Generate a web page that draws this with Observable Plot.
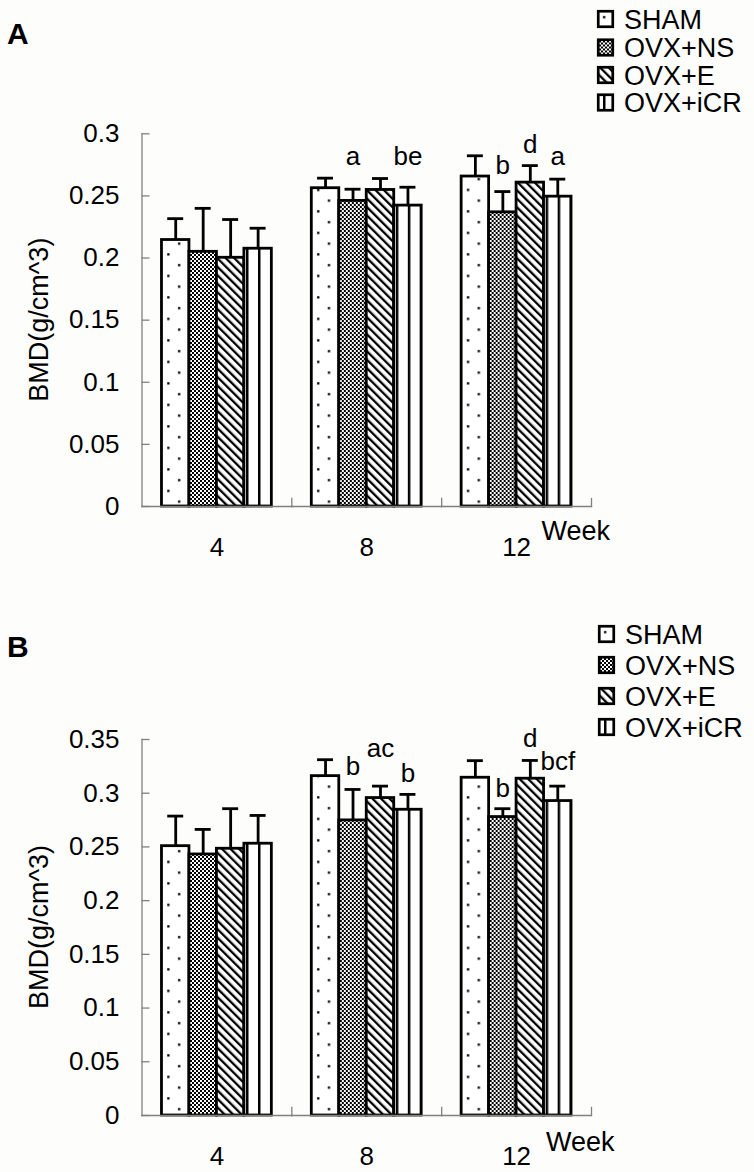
<!DOCTYPE html>
<html><head><meta charset="utf-8">
<script src="https://cdn.jsdelivr.net/npm/d3@7"></script>
<script src="https://cdn.jsdelivr.net/npm/@observablehq/plot@0.6"></script>
<style>
body{margin:0;background:#fdfdfc;}
#wrap{position:relative;width:754px;height:1172px;font-family:"Liberation Sans",Arial,sans-serif;background:#fdfdfc;}
.panel{position:absolute;left:0;}
#overlay{position:absolute;left:0;top:0;}
</style></head><body>
<svg width="0" height="0" style="position:absolute">
<defs>
<pattern id="pSham" patternUnits="userSpaceOnUse" width="21.5" height="21.5">
  <rect width="21.5" height="21.5" fill="#fff"/>
  <rect x="6" y="6" width="2.3" height="2.3" fill="#000"/>
  <rect x="16.75" y="16.75" width="2.3" height="2.3" fill="#000"/>
</pattern>
<pattern id="pNs" patternUnits="userSpaceOnUse" width="4" height="4">
  <rect width="4" height="4" fill="#fff"/>
  <rect width="2" height="2" fill="#000"/>
  <rect x="2" y="2" width="2" height="2" fill="#000"/>
</pattern>
<pattern id="pE" patternUnits="userSpaceOnUse" width="6" height="6" patternTransform="rotate(-45)">
  <rect width="6" height="6" fill="#fff"/>
  <rect width="2.3" height="6" fill="#000"/>
</pattern>
<pattern id="pIcr" patternUnits="userSpaceOnUse" width="12" height="10">
  <rect width="12" height="10" fill="#fff"/>
  <rect x="6" width="2.5" height="10" fill="#000"/>
</pattern>
</defs></svg>
<div id="wrap">
  <div id="pa" class="panel" style="top:0"></div>
  <div id="pb" class="panel" style="top:586px"></div>
  <svg id="overlay" width="754" height="1172"></svg>
</div>
<script>
const weeks = ["4", "8", "12"];
const groups = ["SHAM", "OVX+NS", "OVX+E", "OVX+iCR"];
const patterns = ["url(#pSham)", "url(#pNs)", "url(#pE)", "url(#pIcr)"];

// Panel A: mean BMD per group at weeks 4, 8, 12
const shamA = [0.2145, 0.2562, 0.2656];
const nsA   = [0.2050, 0.2460, 0.2368];
const eA    = [0.2002, 0.2548, 0.2607];
const icrA  = [0.2075, 0.2422, 0.2494];
// Panel A: SD (upper error bar)
const shamAErr = [0.0172, 0.0081, 0.0167];
const nsAErr   = [0.0350, 0.0094, 0.0167];
const eAErr    = [0.0308, 0.0092, 0.0137];
const icrAErr  = [0.0165, 0.0148, 0.0141];

// Panel B
const shamB = [0.2507, 0.3159, 0.3144];
const nsB   = [0.2430, 0.2747, 0.2778];
const eB    = [0.2483, 0.2955, 0.3135];
const icrB  = [0.2530, 0.2846, 0.2927];
const shamBErr = [0.0280, 0.0153, 0.0159];
const nsBErr   = [0.0233, 0.0288, 0.0078];
const eBErr    = [0.0373, 0.0111, 0.0170];
const icrBErr  = [0.0263, 0.0143, 0.0139];

const ticksA = [0, 0.05, 0.1, 0.15, 0.2, 0.25, 0.3];
const ticksB = [0, 0.05, 0.1, 0.15, 0.2, 0.25, 0.3, 0.35];

// significance letters (baseline value in BMD units)
const lettersA = [
  {week: "8", group: "OVX+NS", text: "a", y: 0.2746},
  {week: "8", group: "OVX+iCR", text: "be", y: 0.2746},
  {week: "12", group: "OVX+NS", text: "b", y: 0.2680},
  {week: "12", group: "OVX+E", text: "d", y: 0.2842},
  {week: "12", group: "OVX+iCR", text: "a", y: 0.2746}
];
const lettersB = [
  {week: "8", group: "OVX+NS", text: "b", y: 0.3166},
  {week: "8", group: "OVX+E", text: "ac", y: 0.3336},
  {week: "8", group: "OVX+iCR", text: "b", y: 0.3103},
  {week: "12", group: "OVX+NS", text: "b", y: 0.2964},
  {week: "12", group: "OVX+E", text: "d", y: 0.3429},
  {week: "12", group: "OVX+iCR", text: "bcf", y: 0.3212}
];

function rows(means, errs) {
  return groups.flatMap((g, i) => weeks.map((w, j) => ({week: w, group: g, value: means[i][j], err: errs[i][j]})));
}
const dataA = rows([shamA, nsA, eA, icrA], [shamAErr, nsAErr, eAErr, icrAErr]);
const dataB = rows([shamB, nsB, eB, icrB], [shamBErr, nsBErr, eBErr, icrBErr]);

const FONT = '"Liberation Sans", Arial, sans-serif';
const GRAY = "#808080";
const SW = 2.8;

function panel({data, letters, ticks, yMax, marginTop, marginBottom}) {
  const H = 586;
  return Plot.plot({
    width: 754, height: H,
    marginLeft: 141.5, marginRight: 163, marginTop, marginBottom,
    style: {fontFamily: FONT, fontSize: "26px", background: "transparent", color: "#000", overflow: "visible"},
    fx: {domain: weeks, padding: 0, axis: null, round: false},
    x: {domain: groups, paddingInner: 0, paddingOuter: 20 / 27.5, axis: null, round: false},
    y: {domain: [0, yMax], axis: null},
    color: {domain: groups, range: patterns},
    marks: [
      Plot.barY(data, {fx: "week", x: "group", y: "value", fill: "group", stroke: "#000", strokeWidth: SW}),
      Plot.ruleX(data, {fx: "week", x: "group", y1: "value", y2: d => d.value + d.err, stroke: "#000", strokeWidth: SW}),
      Plot.tickY(data, {fx: "week", x: "group", y: d => d.value + d.err, stroke: "#000", strokeWidth: SW, inset: 5.75}),
      Plot.frame({anchor: "bottom", stroke: GRAY, strokeWidth: 1.3}),
      Plot.frame({anchor: "right", stroke: GRAY, strokeWidth: 1.3, insetTop: H - marginTop - marginBottom - 8}),
      Plot.frame({anchor: "left", facetAnchor: "left", stroke: GRAY, strokeWidth: 1.3}),
      Plot.axisY({ticks, tickFormat: d => String(+d.toFixed(2)), tickSize: -8, tickPadding: 30.5,
        stroke: GRAY, strokeWidth: 1.3, fill: "#000", fontSize: 26, label: null}),
      Plot.axisFx({anchor: "bottom", tickSize: 0, tickPadding: 31, fontSize: 26, label: null, fill: "#000"}),
      Plot.text(letters, {fx: "week", x: "group", y: "y", text: "text", fontSize: 26, lineAnchor: "bottom", fill: "#000"})
    ]
  });
}

document.getElementById("pa").append(panel({data: dataA, letters: lettersA, ticks: ticksA, yMax: 0.3, marginTop: 133.3, marginBottom: 80}));
document.getElementById("pb").append(panel({data: dataB, letters: lettersB, ticks: ticksB, yMax: 0.35, marginTop: 153, marginBottom: 57}));

// static annotations: panel letters, legends, axis titles
const ov = d3.select("#overlay").attr("font-family", FONT);
function legend(x, baselines) {
  groups.forEach((g, i) => {
    const b = baselines[i];
    const s = ov.append("svg").attr("x", x).attr("y", b - 18.5).attr("width", 17).attr("height", 18).attr("overflow", "visible");
    s.append("rect").attr("x", 1.25).attr("y", 1.25).attr("width", 14.5).attr("height", 15.5)
      .attr("fill", patterns[i]).attr("stroke", "#000").attr("stroke-width", 2.7);
    ov.append("text").attr("x", x + 27).attr("y", b).attr("font-size", 27).text(g);
  });
}
legend(597, [28.5, 57, 84.5, 112]);
legend(598, [643.5, 674.5, 705.5, 736.5]);

ov.append("text").attr("x", 7).attr("y", 44).attr("font-size", 30).attr("font-weight", "bold").text("A");
ov.append("text").attr("x", 7).attr("y", 657).attr("font-size", 30).attr("font-weight", "bold").text("B");
ov.append("text").attr("x", 541.5).attr("y", 539.5).attr("font-size", 27).text("Week");
ov.append("text").attr("x", 546).attr("y", 1151).attr("font-size", 27).text("Week");
ov.append("text").attr("transform", "translate(48,319.7) rotate(-90)").attr("text-anchor", "middle").attr("font-size", 27).text("BMD(g/cm^3)");
ov.append("text").attr("transform", "translate(48,927) rotate(-90)").attr("text-anchor", "middle").attr("font-size", 27).text("BMD(g/cm^3)");
</script>
</body></html>
